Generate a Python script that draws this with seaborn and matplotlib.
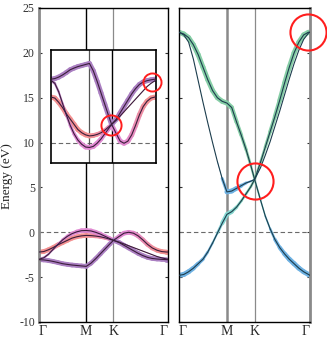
import numpy as np
import pandas as pd
import matplotlib
matplotlib.use("Agg")
import matplotlib.pyplot as plt
import seaborn as sns
from matplotlib.collections import LineCollection
from matplotlib.colors import LinearSegmentedColormap

# ---------------- data ----------------
# k-path coordinate (Gamma - M - K - Gamma)
k_path = [0.0, 0.1, 0.2, 0.3, 0.4, 0.5, 0.6, 0.7, 0.8, 0.9, 1.0,
          1.1, 1.2, 1.3, 1.4, 1.5, 1.577,
          1.7, 1.8, 1.9, 2.0, 2.1, 2.2, 2.3, 2.4, 2.5, 2.6, 2.7, 2.732]
k_ticks = [0.0, 1.0, 1.577, 2.732]
k_labels = ["Γ", "M", "K", "Γ"]

# left panel (valence) bands, energies in eV
val_red = [-2.2, -2.15, -1.95, -1.7, -1.4, -1.15, -0.9, -0.65, -0.5, -0.4, -0.35,
           -0.37, -0.42, -0.5, -0.62, -0.78, -0.9,
           -1.1, -1.3, -1.5, -1.7, -1.9, -2.1, -2.3, -2.5, -2.7, -2.85, -2.97, -3.0]
val_mag = [-3.0, -2.85, -2.45, -1.9, -1.35, -0.85, -0.45, -0.15, 0.05, 0.18, 0.2,
           0.15, 0.0, -0.2, -0.45, -0.7, -0.9,
           -0.45, -0.1, 0.0, -0.1, -0.4, -0.85, -1.35, -1.75, -2.0, -2.15, -2.2, -2.2]
val_pur = [-3.05, -3.08, -3.15, -3.25, -3.37, -3.5, -3.58, -3.65, -3.7, -3.75, -3.8,
           -3.45, -2.95, -2.4, -1.85, -1.3, -0.9,
           -1.15, -1.45, -1.75, -2.05, -2.35, -2.6, -2.8, -2.92, -2.98, -3.02, -3.05, -3.05]
# orbital character (0 red, 0.5 magenta, 1 purple) and weight (fat-band width)
chr_red = [0.0] * 11 + [0.05, 0.1, 0.15, 0.2, 0.25, 0.3] + [0.3] * 12
wgt_red = [1.0] * 11 + [0.95, 0.9, 0.85, 0.8, 0.7, 0.6] + [0.4, 0.3, 0.2, 0.15, 0.1, 0.1, 0.1, 0.1, 0.1, 0.1, 0.1, 0.1]
chr_mag = [0.9, 0.85, 0.8, 0.7, 0.65, 0.6, 0.55, 0.5, 0.5, 0.5, 0.5,
           0.5, 0.5, 0.5, 0.5, 0.5, 0.5,
           0.5, 0.5, 0.5, 0.45, 0.4, 0.3, 0.2, 0.1, 0.05, 0.0, 0.0, 0.0]
wgt_mag = [0.6, 0.5, 0.4, 0.4, 0.5, 0.6, 0.7, 0.8, 0.9, 1.0, 1.0,
           1.0, 1.0, 0.9, 0.9, 0.9, 0.9,
           0.9, 1.0, 1.0, 1.0, 1.0, 1.0, 1.0, 1.0, 1.0, 1.0, 1.0, 1.0]
chr_pur = [1.0] * 29
wgt_pur = [1.0] * 29

# right panel (conduction) bands, energies in eV
con_b1 = [22.3, 22.1, 21.7, 20.9, 19.8, 18.4, 17.0, 15.8, 15.0, 14.6, 14.4,
          13.9, 12.3, 10.8, 9.2, 7.4, 5.9,
          3.6, 1.8, 0.4, -0.8, -1.7, -2.4, -3.0, -3.5, -4.0, -4.4, -4.7, -4.8]
con_b2 = [-4.8, -4.7, -4.4, -4.0, -3.5, -3.0, -2.2, -1.2, -0.1, 1.0, 2.0,
          2.3, 2.8, 3.5, 4.3, 5.1, 5.9,
          7.8, 9.5, 11.2, 12.9, 14.7, 16.6, 18.4, 20.0, 21.2, 22.0, 22.3, 22.3]
con_b3 = [22.3, 22.0, 21.2, 19.3, 16.9, 14.5, 12.2, 10.0, 7.9, 6.0, 4.5,
          4.6, 4.9, 5.2, 5.5, 5.7, 5.9,
          7.2, 8.6, 10.1, 11.8, 13.5, 15.3, 17.1, 18.8, 20.3, 21.5, 22.2, 22.3]
# character (0 blue, 0.5 cyan, 1 green) and weight
chr_b1 = [1.0] * 17 + [0.6, 0.35, 0.15, 0.0, 0.0, 0.0, 0.0, 0.0, 0.0, 0.0, 0.0, 0.0]
wgt_b1 = [1.0] * 11 + [0.9, 0.8, 0.7, 0.6, 0.5, 0.4] + [0.3, 0.3, 0.4, 0.6, 0.8, 0.9, 1.0, 1.0, 1.0, 1.0, 1.0, 1.0]
chr_b2 = [0.0, 0.0, 0.0, 0.0, 0.0, 0.0, 0.05, 0.15, 0.3, 0.45, 0.5,
          0.55, 0.6, 0.7, 0.8, 0.9, 1.0] + [1.0] * 12
wgt_b2 = [1.0, 1.0, 1.0, 0.9, 0.8, 0.6, 0.5, 0.4, 0.4, 0.7, 1.0,
          0.8, 0.6, 0.5, 0.5, 0.5, 0.5,
          0.5, 0.6, 0.7, 0.8, 0.9, 1.0, 1.0, 1.0, 1.0, 1.0, 1.0, 1.0]
chr_b3 = [0.0] * 29
wgt_b3 = [0.0] * 9 + [0.2, 1.0, 1.0, 0.9, 0.7, 0.5, 0.3, 0.15] + [0.0] * 12

# red circle annotations (k, E)
circ_left_k = [1.555, 2.62]
circ_left_E = [-0.86, -2.92]
circ_right_k = [1.577, 2.70]
circ_right_E = [5.7, 22.3]

# ---------------- style ----------------
sns.set_theme(style="ticks")
plt.rcParams["font.family"] = ["Liberation Serif", "DejaVu Serif"]
plt.rcParams["axes.unicode_minus"] = False

cmap_left = LinearSegmentedColormap.from_list("lft", ["#f39090", "#e08ad2", "#ab80c2"])
cmap_right = LinearSegmentedColormap.from_list("rgt", ["#6fb2e3", "#86d8d2", "#86cea6"])
line_left = "#3b1d3b"
line_right = "#1c3d4d"
gray = "#8a8a8a"

fig = plt.figure(figsize=(3.27, 3.40), dpi=100)
axL = fig.add_axes([39 / 327, 18 / 340, 129 / 327, 314 / 340])
axR = fig.add_axes([179 / 327, 18 / 340, 131 / 327, 314 / 340])
axI = fig.add_axes([51 / 327, 177 / 340, 105 / 327, 113 / 340])

k_arr = np.array(k_path)


def fat(ax, E, c, w, cmap, lw_max):
    pts = np.column_stack([k_arr, np.array(E)])
    segs = np.stack([pts[:-1], pts[1:]], axis=1)
    cm = (np.array(c[:-1]) + np.array(c[1:])) / 2
    wm = (np.array(w[:-1]) + np.array(w[1:])) / 2
    lc = LineCollection(segs, colors=cmap(cm), linewidths=wm * lw_max,
                        capstyle="round", joinstyle="round", zorder=2)
    ax.add_collection(lc)


def thin(ax, bands, color, lw):
    df = pd.concat([pd.DataFrame({"k": k_path, "E": b, "band": i})
                    for i, b in enumerate(bands)])
    sns.lineplot(data=df, x="k", y="E", units="band", estimator=None, sort=False,
                 color=color, lw=lw, ax=ax, zorder=3, legend=False)


left_bands = [(val_red, chr_red, wgt_red), (val_mag, chr_mag, wgt_mag), (val_pur, chr_pur, wgt_pur)]
right_bands = [(con_b1, chr_b1, wgt_b1), (con_b2, chr_b2, wgt_b2), (con_b3, chr_b3, wgt_b3)]

# left main panel
for E, c, w in left_bands:
    fat(axL, E, c, w, cmap_left, 3.4)
thin(axL, [b[0] for b in left_bands], line_left, 0.8)
# right panel
for E, c, w in right_bands:
    fat(axR, E, c, w, cmap_right, 3.6)
thin(axR, [b[0] for b in right_bands], line_right, 0.8)
# inset (same valence bands, energy axis flipped)
for E, c, w in left_bands:
    fat(axI, E, c, w, cmap_left, 3.6)
thin(axI, [b[0] for b in left_bands], line_left, 0.8)

for ax in (axL, axR):
    ax.set_xlim(0, k_ticks[-1])
    ax.set_ylim(-10, 25)
    ax.set_yticks(range(-10, 26, 5))
    ax.axhline(0, ls=(0, (4, 2.5)), color="#6a6a6a", lw=0.8, zorder=1)
    ax.set_xticks(k_ticks)
    ax.set_xticklabels(k_labels, fontsize=10)
    ax.tick_params(axis="x", length=0, pad=2)
    ax.tick_params(axis="y", direction="in", length=2, width=0.8,
                   left=True, right=True, labelsize=8.5, pad=3, colors="#333333",
                   labelcolor="#333333")
    ax.set_xlabel("")
    ax.set_ylabel("")
    for s in ax.spines.values():
        s.set_color("black")
        s.set_linewidth(1.0)
    labs = ax.get_xticklabels()
    labs[0].set_ha("left")
    labs[-1].set_ha("right")

axL.spines["left"].set_color(gray)
axL.spines["left"].set_linewidth(2.0)
axR.spines["right"].set_color(gray)
axR.spines["right"].set_linewidth(2.0)
axR.tick_params(axis="y", labelleft=False)

axL.axvline(k_ticks[1], color="black", lw=1.0, zorder=1)
axL.axvline(k_ticks[2], color=gray, lw=0.9, zorder=1)
axR.axvline(k_ticks[1], color=gray, lw=1.8, zorder=1)
axR.axvline(k_ticks[2], color=gray, lw=0.9, zorder=1)

axL.set_ylabel("Energy (eV)", fontsize=9.5, color="#222222")
axL.yaxis.set_label_coords(-0.205, 0.465)

# inset
axI.set_xlim(0, k_ticks[-1])
axI.set_ylim(0.94, -4.44)
axI.set_facecolor("white")
axI.set_xticks([])
axI.set_yticks([])
axI.set_xlabel("")
axI.set_ylabel("")
axI.axhline(0, ls=(0, (4, 2.5)), color="#6a6a6a", lw=0.8, zorder=1)
axI.axvline(k_ticks[1], color="#555555", lw=0.9, zorder=1)
axI.axvline(k_ticks[2], color="black", lw=1.0, zorder=1)
for s in axI.spines.values():
    s.set_color("black")
    s.set_linewidth(1.2)

# red circles
axI.plot(circ_left_k[:1], circ_left_E[:1], "o", mfc="none", mec="#ff1e1e", mew=1.4,
         ms=14.5, clip_on=False, zorder=5)
axI.plot(circ_left_k[1:], circ_left_E[1:], "o", mfc="none", mec="#ff1e1e", mew=1.4,
         ms=13, clip_on=False, zorder=5)
axR.plot(circ_right_k, circ_right_E, "o", mfc="none", mec="#ff1e1e", mew=1.5,
         ms=26, clip_on=False, zorder=5)

fig.savefig("out.png", dpi=100, facecolor="white")
